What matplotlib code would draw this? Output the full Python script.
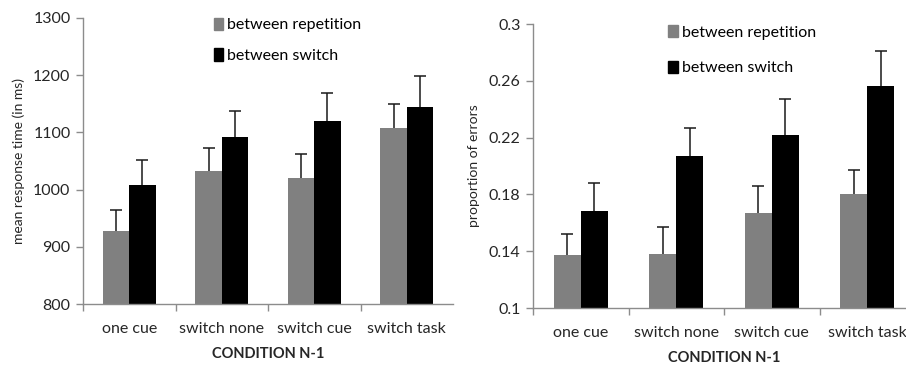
import numpy as np
import matplotlib
matplotlib.use('Agg')
import matplotlib.pyplot as plt
from matplotlib.patches import Patch

plt.rcParams['font.family'] = ['Lato', 'DejaVu Sans']

conditions = ['one cue', 'switch none', 'switch cue', 'switch task']
series = ['between repetition', 'between switch']

rt_rep = [927, 1033, 1021, 1107]
rt_rep_err = [38, 40, 42, 42]
rt_sw = [1008, 1092, 1120, 1145]
rt_sw_err = [43, 46, 49, 53]

err_rep = [0.137, 0.138, 0.167, 0.180]
err_rep_err = [0.015, 0.019, 0.019, 0.017]
err_sw = [0.168, 0.207, 0.222, 0.256]
err_sw_err = [0.020, 0.020, 0.025, 0.025]

grey = '#808080'
spine_col = '#8c8c8c'
txt_col = '#262626'

fig = plt.figure(figsize=(9.06, 3.67), dpi=100)
ax1 = fig.add_axes([83/906, 1-304/367, 370/906, (304-18)/367])
ax2 = fig.add_axes([533/906, 1-308/367, 382/906, (308-24)/367])


def upper_err(ax, x, y, e):
    # one-sided error bars: stem from bar top plus a cap
    top = np.array(y) + np.array(e)
    ax.vlines(x, y, top, color='#1a1a1a', lw=1.1, zorder=1)
    ax.plot(x, top, ls='none', marker='_', ms=9, mew=1.1, color='#1a1a1a', zorder=1)


def draw(ax, rep, rep_e, sw, sw_e, ylim, yticks, fmt, ylabel, leg_anchor, leg_space):
    x = np.arange(len(conditions))
    w = 0.285
    ax.bar(x - w/2, rep, w, color=grey, zorder=2)
    ax.bar(x + w/2, sw, w, color='black', zorder=2)
    upper_err(ax, x - w/2, rep, rep_e)
    upper_err(ax, x + w/2, sw, sw_e)
    ax.set_xlim(-0.5, 3.5)
    ax.set_ylim(*ylim)
    ax.set_yticks(yticks)
    ax.set_yticklabels([fmt(v) for v in yticks], fontsize=11.5, color=txt_col)
    ax.set_xticks(x)
    ax.set_xticklabels(conditions, fontsize=11.5, color=txt_col)
    ax.set_xticks([-0.5, 0.5, 1.5, 2.5], minor=True)
    ax.tick_params(axis='x', which='major', length=0, pad=13)
    ax.tick_params(axis='x', which='minor', length=5, color=spine_col, width=1)
    ax.tick_params(axis='y', length=5, color=spine_col, width=1, pad=4)
    for s in ['top', 'right']:
        ax.spines[s].set_visible(False)
    for s in ['left', 'bottom']:
        ax.spines[s].set_color(spine_col)
        ax.spines[s].set_linewidth(1)
    ax.set_xlabel('CONDITION N-1', fontsize=10.5, fontweight='bold', color=txt_col, labelpad=8)
    ax.set_ylabel(ylabel, fontsize=10, color=txt_col, labelpad=6)
    handles = [Patch(color=grey), Patch(color='black')]
    ax.legend(handles, series, loc='upper left', bbox_to_anchor=leg_anchor,
              frameon=False, fontsize=11.5, handlelength=0.6, handleheight=0.8,
              handletextpad=0.25, labelspacing=leg_space, borderaxespad=0)


draw(ax1, rt_rep, rt_rep_err, rt_sw, rt_sw_err, (800, 1300),
     [800, 900, 1000, 1100, 1200, 1300], lambda v: '%d' % v,
     'mean response time (in ms)', (0.336, 1.023), 1.0)
draw(ax2, err_rep, err_rep_err, err_sw, err_sw_err, (0.1, 0.3),
     [0.1, 0.14, 0.18, 0.22, 0.26, 0.3], lambda v: ('%g' % v),
     'proportion of errors', (0.337, 1.018), 1.3)

fig.savefig('out.png', dpi=100)
